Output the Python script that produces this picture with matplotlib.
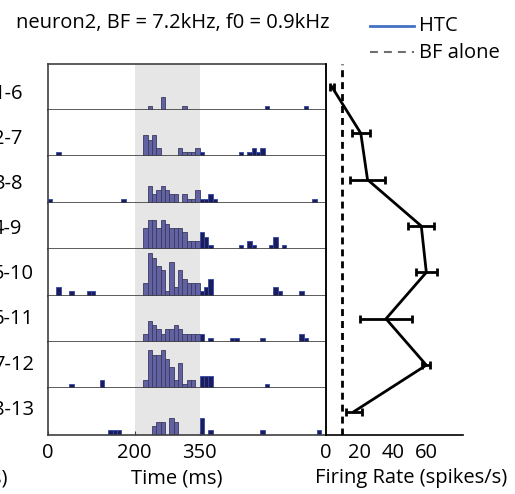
import matplotlib
matplotlib.use("Agg")
import matplotlib.pyplot as plt
from matplotlib.lines import Line2D

plt.rcParams['font.family'] = 'Open Sans'
FS = 14.5

# harmonic rows shown on the left, one PSTH per row
rows = ['1-6', '2-7', '3-8', '4-9', '5-10', '6-11', '7-12', '8-13']

# PSTH: 10 ms bins, bin index -> spike count
bins_1_6 = [23, 26, 31, 50, 59]
cnt_1_6 = [1, 3, 1, 1, 1]
bins_2_7 = [2, 22, 23, 24, 25, 30, 31, 32, 33, 34, 35, 44, 46, 47, 48, 49]
cnt_2_7 = [1, 5, 4, 5, 2, 2, 1, 1, 1, 2, 1, 1, 1, 2, 1, 2]
bins_3_8 = [0, 17, 23, 24, 25, 26, 27, 28, 29, 31, 32, 33, 34, 35, 36, 37, 38, 61]
cnt_3_8 = [1, 1, 4, 2, 3, 4, 3, 2, 2, 2, 1, 1, 3, 1, 1, 2, 1, 1]
bins_4_9 = [22, 23, 24, 25, 26, 27, 28, 29, 30, 31, 32, 33, 34, 35, 36, 37, 44, 46, 47, 51, 52, 54]
cnt_4_9 = [5, 7, 7, 5, 7, 6, 5, 5, 5, 4, 2, 2, 2, 4, 3, 1, 1, 2, 1, 1, 3, 1]
bins_5_10 = [2, 5, 9, 10, 22, 23, 24, 25, 26, 27, 28, 29, 30, 31, 32, 33, 34, 35, 36, 37, 52, 53, 58]
cnt_5_10 = [2, 1, 1, 1, 3, 10, 9, 7, 6, 1, 8, 2, 6, 4, 3, 3, 3, 1, 2, 4, 2, 1, 1]
bins_6_11 = [22, 23, 24, 25, 26, 27, 28, 29, 30, 31, 32, 33, 34, 35, 37, 42, 43, 49, 58, 59]
cnt_6_11 = [2, 5, 4, 3, 2, 3, 3, 4, 3, 2, 2, 2, 2, 2, 1, 1, 1, 1, 2, 1]
bins_7_12 = [5, 12, 22, 23, 24, 25, 26, 27, 28, 29, 30, 31, 32, 33, 35, 36, 37, 50]
cnt_7_12 = [1, 2, 2, 9, 8, 8, 9, 7, 5, 2, 6, 1, 2, 2, 3, 3, 3, 1]
bins_8_13 = [14, 15, 16, 24, 25, 26, 28, 29, 35, 37, 49, 62]
cnt_8_13 = [1, 1, 1, 2, 3, 3, 4, 3, 4, 1, 1, 1]

all_bins = [bins_1_6, bins_2_7, bins_3_8, bins_4_9, bins_5_10, bins_6_11, bins_7_12, bins_8_13]
all_cnts = [cnt_1_6, cnt_2_7, cnt_3_8, cnt_4_9, cnt_5_10, cnt_6_11, cnt_7_12, cnt_8_13]

# firing rate per row (spikes/s) and error
rates = [3.8, 21, 25, 57, 60, 36, 60, 17]
rate_err = [1.2, 5.5, 10.5, 7.8, 6.4, 15.3, 2.3, 4.8]
bf_alone = 10

bin_w = 10
stim_on, stim_off = 200, 350

W, H = 515, 494
fig = plt.figure(figsize=(W / 100, H / 100), dpi=100)


def box(x0, y0, x1, y1):
    # pixel box (from top-left) -> figure fraction rect
    return [x0 / W, 1 - y1 / H, (x1 - x0) / W, (y1 - y0) / H]


left, right, top, bottom = 47.7, 325.5, 63.7, 434.7
row_h = (bottom - top) / len(rows)
frame_col = '#404040'

for i, lab in enumerate(rows):
    ax = fig.add_axes(box(left, top + i * row_h, right, top + (i + 1) * row_h))
    ax.axvspan(stim_on, stim_off, color='#e6e6e6', lw=0, zorder=0)
    starts = [b * bin_w for b in all_bins[i]]
    inside = [stim_on <= s < stim_off for s in starts]
    ax.bar([s for s, k in zip(starts, inside) if k],
           [c for c, k in zip(all_cnts[i], inside) if k],
           width=bin_w, align='edge', color='#6262a2', edgecolor='#3a3a60',
           linewidth=0.6, zorder=2)
    ax.bar([s for s, k in zip(starts, inside) if not k],
           [c for c, k in zip(all_cnts[i], inside) if not k],
           width=bin_w, align='edge', color='#1c1c5a', edgecolor='#3048a8',
           linewidth=0.6, zorder=2)
    ax.set_xlim(0, 640)
    ax.set_ylim(0, 11)
    ax.set_yticks([])
    for side, sp in ax.spines.items():
        sp.set_color(frame_col)
        sp.set_linewidth(1.2)
    ax.spines['top'].set_visible(i == 0)
    if i < len(rows) - 1:
        ax.set_xticks([])
    else:
        ax.set_xticks([0, stim_on, stim_off])
        ax.tick_params(axis='x', direction='in', length=3, pad=6,
                       labelsize=FS, color=frame_col)
    # row labels sit a little off the row centres, as in the original
    fig.text(-7 / W, 1 - (91.7 + i * 45.1 + 7.2) / H, lab,
             ha='left', va='baseline', fontsize=FS)

# firing rate panel
ax2 = fig.add_axes(box(right, top, 463.3, bottom))
ypos = list(range(1, len(rows) + 1))
ax2.axvline(bf_alone, color='k', lw=2, ls=(0, (2.5, 1.8)))
ax2.errorbar(rates, ypos, xerr=rate_err, color='k', lw=2, elinewidth=2,
             capsize=2.6, capthick=2)
ax2.set_xlim(0, 82)
ax2.set_ylim(len(rows) + 0.5, 0.5)
ax2.set_yticks([])
ax2.set_xticks([0, 20, 40, 60])
ax2.tick_params(axis='x', length=0, pad=6, labelsize=FS)
ax2.spines['top'].set_visible(False)
ax2.spines['right'].set_visible(False)
for s in ['left', 'bottom']:
    ax2.spines[s].set_linewidth(1.2)
    ax2.spines[s].set_color('k')
ax2.patch.set_alpha(0)

# texts
fig.text(172.5 / W, 1 - 28.3 / H, 'neuron2, BF = 7.2kHz, f0 = 0.9kHz',
         ha='center', va='baseline', fontsize=FS)
fig.text(176.7 / W, 1 - 483.3 / H, 'Time (ms)', ha='center', va='baseline', fontsize=FS)
fig.text(7 / W, 1 - 483.3 / H, 'Time (ms)', ha='right', va='baseline', fontsize=FS)
fig.text(411.5 / W, 1 - 483.3 / H, 'Firing Rate (spikes/s)', ha='center',
         va='baseline', fontsize=FS)

# legend drawn by hand
fig.add_artist(Line2D([370 / W, 414 / W], [1 - 26 / H, 1 - 26 / H],
                      color='#4472c4', lw=2))
fig.add_artist(Line2D([370 / W, 414 / W], [1 - 52.5 / H, 1 - 52.5 / H],
                      color='#707070', lw=1.5, ls=(0, (3.8, 2.9))))
fig.text(419 / W, 1 - 26 / H, 'HTC', ha='left', va='center', fontsize=FS)
fig.text(419 / W, 1 - 52.5 / H, 'BF alone', ha='left', va='center', fontsize=FS)

fig.savefig('out.png', dpi=100)
